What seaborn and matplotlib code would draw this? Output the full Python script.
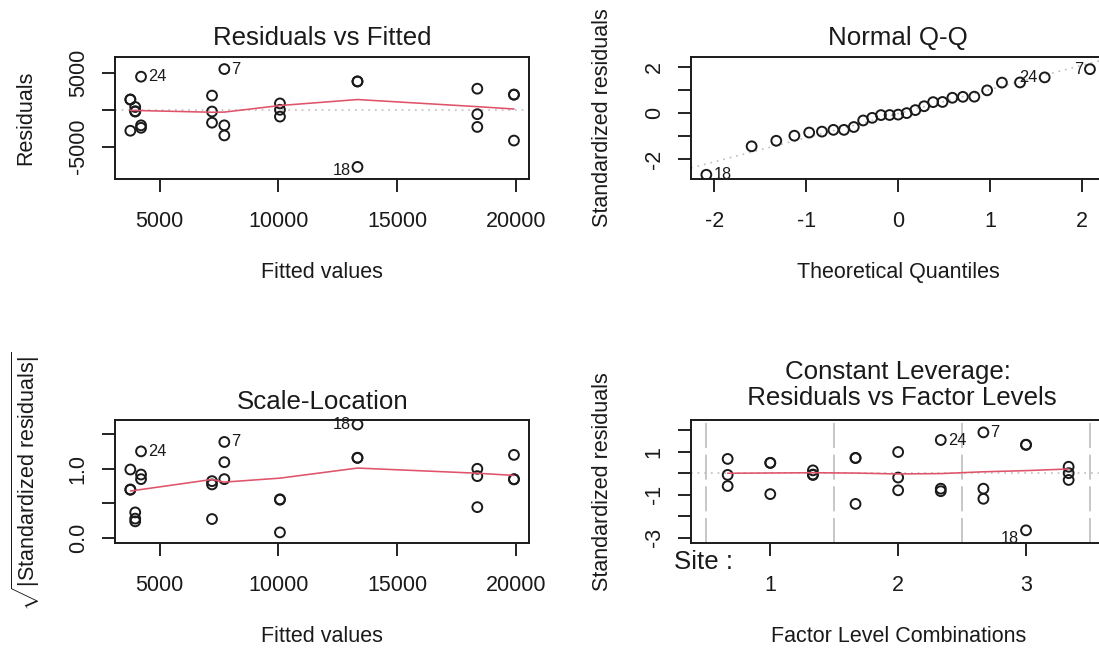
import numpy as np
import pandas as pd
import matplotlib
matplotlib.use("Agg")
import matplotlib.pyplot as plt
import seaborn as sns
from statistics import NormalDist

# ---- data: two-way model Cost ~ Site * Treatment, 3 replicates per cell ----
site_levels = ["1", "2", "3"]
site = [1, 1, 1, 2, 2, 2, 3, 3, 3] * 3
treatment = [1] * 9 + [2] * 9 + [3] * 9
# fitted cell means, rows = site, columns = treatment
cell_means = [
    [7209, 3770, 3975],
    [19924, 18381, 4220],
    [7728, 13335, 10070],
]
residuals = [
    1960, -1740, -220, 2100, 2080, -4180, 5580, -3480, -2100,
    1430, 1410, -2840, 2900, -580, -2320, 3900, 3880, -7780,
    400, -230, -170, -2100, -2440, 4540, 890, 20, -910,
]

# ---- derived model quantities ----
site = np.array(site)
treatment = np.array(treatment)
r = np.array(residuals, float)
n = len(r)
p = len(cell_means) * len(cell_means[0])
fitted = np.array(cell_means, float)[site - 1, treatment - 1]
sigma = np.sqrt(np.sum(r ** 2) / (n - p))
lev = p / n
rs = r / (sigma * np.sqrt(1 - lev))
sqrt_abs = np.sqrt(np.abs(rs))
facval = (site - 1) * 3 + (treatment - 1)
obs_id = np.arange(1, n + 1)
show = np.argsort(-np.abs(r))[:3]

a = 0.5 if n > 10 else 3 / 8
ppts = (np.arange(1, n + 1) - a) / (n + 1 - 2 * a)
nd = NormalDist()
theo_sorted = np.array([nd.inv_cdf(q) for q in ppts])
theo = np.empty(n)
theo[np.argsort(rs, kind="stable")] = theo_sorted

df = pd.DataFrame(dict(fitted=fitted, resid=r, std=rs, sabs=sqrt_abs,
                       facval=facval, theo=theo, obs=obs_id))


def lowess(x, y, f=2 / 3, iters=3):
    x = np.asarray(x, float)
    y = np.asarray(y, float)
    o = np.argsort(x, kind="stable")
    x, y = x[o], y[o]
    n_ = len(x)
    ns = max(min(int(f * n_ + 1e-7), n_), 2)
    delta = 0.01 * (x[-1] - x[0])
    rng = x[-1] - x[0]
    rw = np.ones(n_)
    ys = np.zeros(n_)

    def lowest(xs, nleft, nright, userw):
        h = max(xs - x[nleft], x[nright] - xs)
        h9, h1 = 0.999 * h, 0.001 * h
        w = np.zeros(n_)
        tot = 0.0
        j = nleft
        while j < n_:
            d = abs(x[j] - xs)
            if d <= h9:
                w[j] = 1.0 if d <= h1 else (1 - (d / h) ** 3) ** 3
                if userw:
                    w[j] *= rw[j]
                tot += w[j]
            elif x[j] > xs:
                break
            j += 1
        nrt = j - 1
        if tot <= 0:
            return 0.0, False
        sl = slice(nleft, nrt + 1)
        w[sl] /= tot
        if h > 0:
            aa = np.sum(w[sl] * x[sl])
            b = xs - aa
            c = np.sum(w[sl] * (x[sl] - aa) ** 2)
            if np.sqrt(c) > 0.001 * rng:
                b /= c
                w[sl] *= b * (x[sl] - aa) + 1
        return float(np.sum(w[sl] * y[sl])), True

    for it in range(iters + 1):
        nleft, nright = 0, ns - 1
        last = -1
        i = 0
        while True:
            if nright < n_ - 1:
                if x[i] - x[nleft] > x[nright + 1] - x[i]:
                    nleft += 1
                    nright += 1
                    continue
            val, ok = lowest(x[i], nleft, nright, it > 0)
            ys[i] = val if ok else y[i]
            if last < i - 1:
                denom = x[i] - x[last]
                for j in range(last + 1, i):
                    al = (x[j] - x[last]) / denom
                    ys[j] = al * ys[i] + (1 - al) * ys[last]
            last = i
            cut = x[last] + delta
            i = last + 1
            while i < n_:
                if x[i] > cut:
                    break
                if x[i] == x[last]:
                    ys[i] = ys[last]
                    last = i
                i += 1
            i = max(last + 1, i - 1)
            if last >= n_ - 1:
                break
        res = y - ys
        if it >= iters:
            break
        m = np.sort(np.abs(res))
        m1 = n_ // 2
        cmad = 3 * (m[m1] + m[n_ - m1 - 1]) if n_ % 2 == 0 else 6 * m[m1]
        if cmad < 1e-7 * np.mean(np.abs(res)):
            break
        ar = np.abs(res)
        rw = np.where(ar <= 0.001 * cmad, 1.0,
                      np.where(ar <= 0.999 * cmad, (1 - (ar / cmad) ** 2) ** 2, 0.0))
    return x, ys


def pad4(lo, hi):
    d = (hi - lo) * 0.04
    return lo - d, hi + d


def extend(lo, hi, f=0.08):
    d = (hi - lo) * f
    return lo - d, hi + d


# ---- styling ----
sns.set_style("white")
plt.rcParams["font.family"] = ["Liberation Sans", "DejaVu Sans"]
plt.rcParams["mathtext.fontset"] = "custom"
plt.rcParams["mathtext.rm"] = "Liberation Sans"
plt.rcParams["mathtext.it"] = "Liberation Sans:italic"
plt.rcParams["axes.unicode_minus"] = False

W, H = 1099, 650
TITLE_FS = 18.6
LAB_FS = 15.5
ID_FS = 11.8
RED = "#DF536B"
GRAY = "#BEBEBE"
INK = "#1a1a1a"

fig = plt.figure(figsize=(W / 100, H / 100), dpi=100)
fig.patch.set_facecolor("white")


def make_axes(left, top, right, bottom):
    ax = fig.add_axes([left / W, 1 - bottom / H, (right - left) / W, (bottom - top) / H])
    ax.set_facecolor("white")
    for s in ax.spines.values():
        s.set_visible(True)
        s.set_color(INK)
        s.set_linewidth(1.4)
    ax.tick_params(axis="both", direction="out", length=9.6, width=1.35, color=INK,
                   labelsize=LAB_FS, labelcolor=INK)
    ax.tick_params(axis="x", pad=13.3, bottom=True)
    ax.tick_params(axis="y", pad=9.3, left=True, labelrotation=90)
    for lab in ax.get_yticklabels():
        lab.set_va("center")
    ax.grid(False)
    return ax


def finish(ax, title, xlabel, ylabel, title_y=1.150):
    hpx = ax.get_position().height * H
    wpx = ax.get_position().width * W
    ax.set_title(title, fontsize=TITLE_FS, color=INK, y=title_y, pad=0,
                 verticalalignment="center", linespacing=1.15)
    ax.set_xlabel(xlabel, fontsize=LAB_FS, color=INK)
    ax.xaxis.set_label_coords(0.5, -93.5 / hpx)
    ax.xaxis.label.set_va("center")
    ax.set_ylabel(ylabel, fontsize=LAB_FS, color=INK)
    ax.yaxis.set_label_coords(-89.0 / wpx, 0.5)
    ax.yaxis.label.set_va("center")
    ax.yaxis.label.set_ha("center")
    for lab in ax.get_yticklabels():
        lab.set_va("center")


def points(ax, x, y):
    sns.scatterplot(x=x, y=y, ax=ax, marker="o", s=50, facecolor="none",
                    edgecolor=INK, linewidth=1.4, legend=False, zorder=3)


def smooth(ax, x, y):
    sx, sy = lowess(x, y)
    sns.lineplot(x=sx, y=sy, ax=ax, color=RED, linewidth=1.15, estimator=None,
                 sort=True, legend=False, zorder=4)


def id_labels(ax, x, y, sides, dy=None):
    for idx in show:
        side = sides[obs_id[idx]]
        off_y = 0 if dy is None else dy.get(obs_id[idx], 0)
        ax.annotate(str(obs_id[idx]), (x[idx], y[idx]),
                    xytext=(5.0 if side == "r" else -5.0, off_y), textcoords="offset points",
                    ha="left" if side == "r" else "right", va="center",
                    fontsize=ID_FS, color=INK, zorder=5, annotation_clip=False)


def tick_labels(ax, ticks, shown, fmt):
    ax.set_yticks(ticks)
    ax.set_yticklabels([fmt(t) if t in shown else "" for t in ticks])
    for lab in ax.get_yticklabels():
        lab.set_va("center")


# ---- Residuals vs Fitted ----
ax1 = make_axes(115, 56.7, 529.3, 179.3)
ax1.axhline(0, color=GRAY, linestyle=(0, (1, 3)), linewidth=1.2, zorder=1)
points(ax1, df["fitted"].values, df["resid"].values)
smooth(ax1, df["fitted"].values, df["resid"].values)
ax1.set_xlim(*pad4(fitted.min(), fitted.max()))
ax1.set_ylim(*pad4(*extend(r.min(), r.max())))
ax1.set_xticks([5000, 10000, 15000, 20000])
tick_labels(ax1, [-5000, 0, 5000], [-5000, 5000], lambda t: f"{t:d}")
id_labels(ax1, fitted, r, {18: "l", 7: "r", 24: "r"}, {18: -2.5})
finish(ax1, "Residuals vs Fitted", "Fitted values", "Residuals")

# ---- Normal Q-Q ----
ax2 = make_axes(691, 56.7, 1105.3, 179.3)
q1, q3 = np.quantile(rs, [0.25, 0.75])
t1, t3 = nd.inv_cdf(0.25), nd.inv_cdf(0.75)
slope = (q3 - q1) / (t3 - t1)
ax2.axline((t1, q1), slope=slope, color=GRAY, linestyle=(0, (1, 3)), linewidth=1.2, zorder=1)
points(ax2, df["theo"].values, df["std"].values)
ax2.set_xlim(*pad4(theo.min(), theo.max()))
ylo, yhi = rs.min(), rs.max()
ax2.set_ylim(*pad4(ylo, yhi + 0.075 * (yhi - ylo)))
ax2.set_xticks([-2, -1, 0, 1, 2])
ax2.set_xticklabels(["-2", "-1", "0", "1", "2"])
tick_labels(ax2, [-2, -1, 0, 1, 2], [-2, 0, 2], lambda t: f"{t:d}")
id_labels(ax2, theo, rs, {18: "r", 7: "l", 24: "l"})
finish(ax2, "Normal Q-Q", "Theoretical Quantiles", "Standardized residuals")

# ---- Scale-Location ----
ax3 = make_axes(115, 420, 529.3, 542.7)
points(ax3, df["fitted"].values, df["sabs"].values)
smooth(ax3, df["fitted"].values, df["sabs"].values)
ax3.set_xlim(*pad4(fitted.min(), fitted.max()))
ax3.set_ylim(*pad4(0, sqrt_abs.max()))
ax3.set_xticks([5000, 10000, 15000, 20000])
tick_labels(ax3, [0.0, 0.5, 1.0, 1.5], [0.0, 1.0], lambda t: f"{t:.1f}")
id_labels(ax3, fitted, sqrt_abs, {18: "l", 7: "r", 24: "r"})
finish(ax3, "Scale-Location", "Fitted values",
       r"$\sqrt{|\mathrm{Standardized\ residuals}|}$")

# ---- Constant Leverage: Residuals vs Factor Levels ----
ax4 = make_axes(691, 420, 1105.3, 542.7)
for v in [-0.5, 2.5, 5.5, 8.5]:
    ax4.axvline(v, color=GRAY, linestyle=(0, (15, 4)), linewidth=1.2, zorder=1)
ax4.axhline(0, color=GRAY, linestyle=(0, (1, 3)), linewidth=1.2, zorder=1)
points(ax4, df["facval"].values.astype(float), df["std"].values)
smooth(ax4, df["facval"].values.astype(float), df["std"].values)
ax4.set_xlim(*pad4(-0.5, 8.5))
ax4.set_ylim(*pad4(*extend(rs.min(), rs.max())))
ax4.set_xticks([1, 4, 7])
ax4.set_xticklabels(site_levels)
tick_labels(ax4, [-3, -2, -1, 0, 1, 2], [-3, -1, 1], lambda t: f"{t:d}")
id_labels(ax4, facval.astype(float), rs, {18: "l", 7: "r", 24: "r"}, {18: -6})
ax4.text(-17 / 414.3, -19 / 122.7, "Site :", transform=ax4.transAxes, ha="left",
         va="center", fontsize=TITLE_FS, color=INK)
finish(ax4, "Constant Leverage:\n Residuals vs Factor Levels",
       "Factor Level Combinations", "Standardized residuals", title_y=1.285)

fig.savefig("out.png", dpi=100, facecolor="white")
